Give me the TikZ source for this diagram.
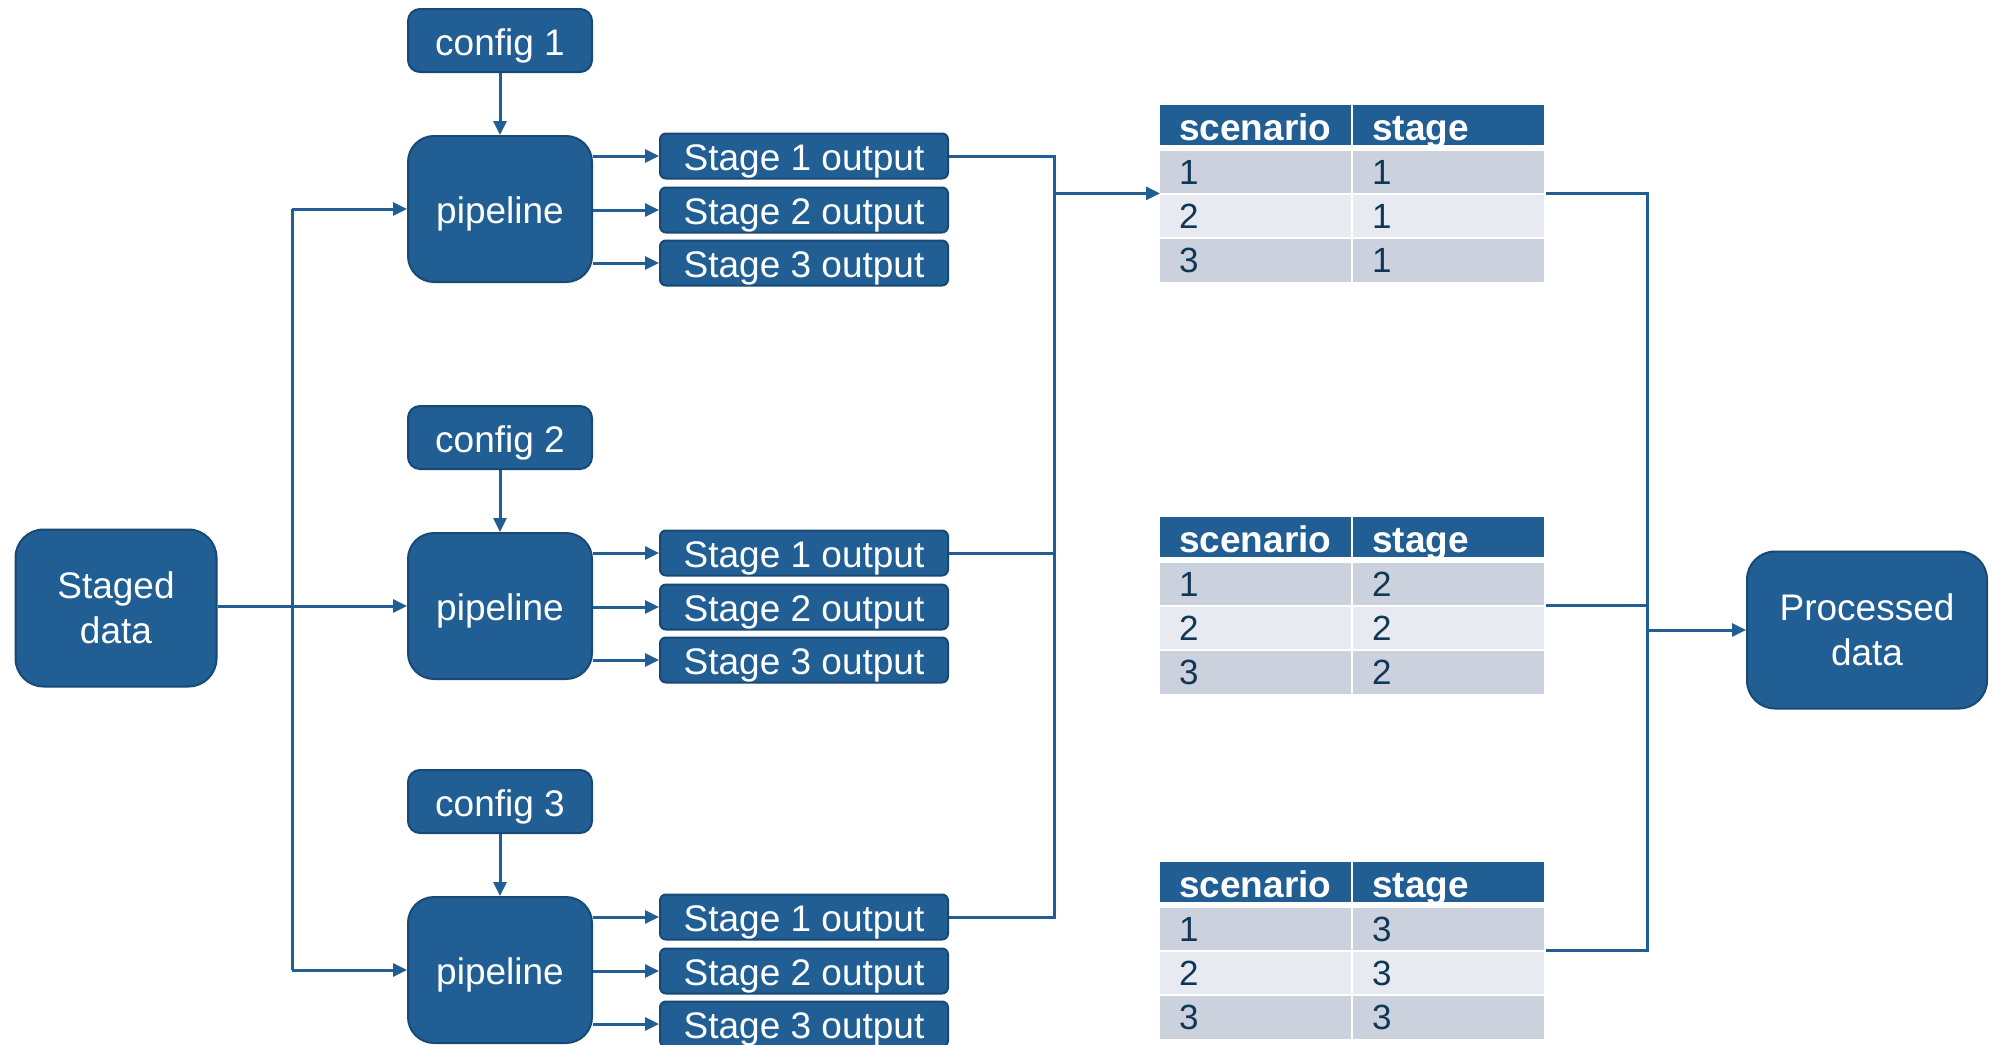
\documentclass[tikz,border=0pt]{standalone}
\usepackage{fontspec}
\setmainfont{Liberation Sans}
\usetikzlibrary{arrows.meta,calc}
\definecolor{boxblue}{RGB}{32,94,148}
\definecolor{edgeblue}{RGB}{24,72,116}
\definecolor{rowdark}{RGB}{203,210,222}
\definecolor{rowlight}{RGB}{231,234,240}
\definecolor{celltext}{RGB}{16,56,86}
\tikzset{
  blk/.style={draw=edgeblue, line width=2pt, fill=boxblue, text=white,
    font=\fontsize{37}{44.5}\selectfont, align=center, inner sep=0pt},
  lowtext/.style={text height=37pt, text depth=8pt},
  cfgbox/.style={blk, lowtext, rounded corners=12pt, minimum width=184pt, minimum height=63pt},
  pipebox/.style={blk, lowtext, rounded corners=26pt, minimum width=184pt, minimum height=146pt},
  outbox/.style={blk, lowtext, rounded corners=6pt, minimum width=288pt, minimum height=42pt},
  databox/.style={blk, rounded corners=28pt, minimum height=157pt},
  conn/.style={draw=boxblue, line width=3pt},
  arr/.style={conn, -{Triangle[length=14pt,width=13pt]}},
  cellbox/.style={inner sep=0pt, minimum width=191pt, anchor=north west},
  hdrtext/.style={anchor=base west, inner sep=0pt, text=white, font=\fontsize{37}{40}\selectfont\bfseries},
  celltxt/.style={anchor=west, inner sep=0pt, text=celltext, font=\fontsize{35}{40}\selectfont}
}
% table: #1 id, #2 top y, #3 stage number
\newcommand\mytable[3]{%
  \node[cellbox, fill=boxblue, minimum height=40pt] (t#1ha) at (1160,#2) {};
  \node[cellbox, fill=boxblue, minimum height=40pt] (t#1hb) at (1353,#2) {};
  \begin{scope}
    \clip (1160,#2) rectangle (1544,{#2+40});
    \node[hdrtext] at ($(t#1ha.north west)+(19,35)$) {scenario};
    \node[hdrtext] at ($(t#1hb.north west)+(19,35)$) {stage};
  \end{scope}
  \node[cellbox, fill=rowdark, minimum height=42pt] (t#1a1) at (1160,{#2+46}) {};
  \node[cellbox, fill=rowdark, minimum height=42pt] (t#1b1) at (1353,{#2+46}) {};
  \node[cellbox, fill=rowlight, minimum height=42pt] (t#1a2) at (1160,{#2+90}) {};
  \node[cellbox, fill=rowlight, minimum height=42pt] (t#1b2) at (1353,{#2+90}) {};
  \node[cellbox, fill=rowdark, minimum height=43pt] (t#1a3) at (1160,{#2+134}) {};
  \node[cellbox, fill=rowdark, minimum height=43pt] (t#1b3) at (1353,{#2+134}) {};
  \node[celltxt] at ($(t#1a1.west)+(19,0)$) {1};
  \node[celltxt] at ($(t#1b1.west)+(19,0)$) {#3};
  \node[celltxt] at ($(t#1a2.west)+(19,0)$) {2};
  \node[celltxt] at ($(t#1b2.west)+(19,0)$) {#3};
  \node[celltxt] at ($(t#1a3.west)+(19,0)$) {3};
  \node[celltxt] at ($(t#1b3.west)+(19,0)$) {#3};
}
\begin{document}
\begin{tikzpicture}[x=1pt,y=-1pt]
\clip (0,0) rectangle (1993,1044);
\fill[white] (0,0) rectangle (1993,1044);

% staged / processed data
\node[databox, minimum width=201pt] (sd) at (116,608) {Staged\\data};
\node[databox, minimum width=240pt] (pd) at (1867,630) {Processed\\data};

% three pipeline groups
\foreach \i/\dy in {1/0,2/397,3/761}{
  \node[cfgbox] (c\i) at (500,{40.5+\dy}) {config \i};
  \node[pipebox] (p\i) at (500,{209+\dy}) {pipeline};
  \node[outbox] (s\i1) at (804,{156+\dy}) {Stage 1 output};
  \node[outbox] (s\i2) at (804,{210+\dy}) {Stage 2 output};
  \node[outbox] (s\i3) at (804,{263+\dy}) {Stage 3 output};
  \draw[arr] (c\i.south) -- (p\i.north);
  \draw[arr] (s\i1.west -| p\i.east) -- (s\i1.west);
  \draw[arr] (s\i2.west -| p\i.east) -- (s\i2.west);
  \draw[arr] (s\i3.west -| p\i.east) -- (s\i3.west);
}

% tables
\mytable{1}{105}{1}
\mytable{2}{517}{2}
\mytable{3}{862}{3}

% bus coordinates
\coordinate (lb) at (292,0);
\coordinate (mb) at (1054,0);
\coordinate (rb) at (1647,0);

% left bus
\draw[arr] (sd.east |- p2.west) -- (p2.west);
\draw[conn] (p1.west -| lb) -- (p3.west -| lb);
\draw[arr] (p1.west -| lb) -- (p1.west);
\draw[arr] (p3.west -| lb) -- (p3.west);

% middle bus
\draw[conn] (s11.east) -- (s11.east -| mb) -- (s31.east -| mb) -- (s31.east);
\draw[conn] (s21.east) -- (s21.east -| mb);
\draw[arr] (t1a1.south west -| mb) -- (t1a1.south west);

% right bus
\draw[conn] ($(t1b1.south east)+(2,0)$) -- (t1b1.south east -| rb) -- (t3b1.south east -| rb) -- ($(t3b1.south east)+(2,0)$);
\draw[conn] ($(t2b1.south east)+(2,0)$) -- (t2b1.south east -| rb);
\draw[arr] (pd.west -| rb) -- (pd.west);
\end{tikzpicture}
\end{document}
